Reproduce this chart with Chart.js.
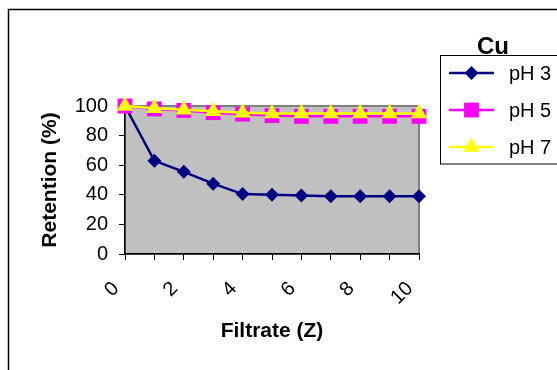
<!DOCTYPE html>
<html>
<head>
<meta charset="utf-8">
<title>Cu retention</title>
<script src="https://cdn.jsdelivr.net/npm/chart.js@4/dist/chart.umd.min.js"></script>
<style>
  html, body { margin: 0; padding: 0; background: #fff; }
  #wrap { width: 557px; height: 370px; }
</style>
</head>
<body>
<div id="wrap"><canvas id="retentionChart" width="557" height="370"></canvas></div>
<script>
const filtrate = [0, 1, 2, 3, 4, 5, 6, 7, 8, 9, 10];
const ph3 = [100, 63, 55.5, 47.5, 40.5, 40, 39.5, 39, 39, 39, 39];
const ph5 = [100, 98, 97, 95.5, 94.5, 93.5, 93, 93, 93, 93, 93];
const ph7 = [100, 98.5, 97.5, 96.5, 95.5, 95, 95, 95, 95, 95, 95];
const seriesNames = ['pH 3', 'pH 5', 'pH 7'];
const xTickLabels = ['0', '2', '4', '6', '8', '10'];
const yTicks = [0, 20, 40, 60, 80, 100];
const legendTitle = 'Cu';

const FONT = '"Liberation Sans", Arial, sans-serif';

function points(values) {
  return values.map((v, i) => ({ x: filtrate[i], y: v }));
}

function series(label, values, color, style, radius, order) {
  return {
    label: label,
    data: points(values),
    borderColor: color,
    backgroundColor: color,
    borderWidth: 2.5,
    pointStyle: style,
    pointRadius: radius,
    pointHoverRadius: radius,
    pointBackgroundColor: color,
    pointBorderColor: color,
    pointBorderWidth: 0,
    tension: 0,
    clip: false,
    order: order
  };
}

// grey plot area and the outer frame, drawn under the axes
const backdrop = {
  id: 'backdrop',
  beforeDraw(chart) {
    const ctx = chart.ctx;
    const a = chart.chartArea;
    ctx.save();
    ctx.fillStyle = '#fff';
    ctx.fillRect(0, 0, chart.width, chart.height);
    ctx.strokeStyle = '#000';
    ctx.lineWidth = 1.5;
    ctx.strokeRect(8.5, 9.5, chart.width + 20, chart.height + 20);
    ctx.fillStyle = '#c0c0c0';
    ctx.fillRect(a.left, a.top, a.right - a.left, a.bottom - a.top);
    ctx.strokeStyle = '#808080';
    ctx.lineWidth = 2;
    ctx.strokeRect(a.left, a.top, a.right - a.left, a.bottom - a.top);
    ctx.restore();
  }
};

// boxed legend with a line sample and marker per series
const boxLegend = {
  id: 'boxLegend',
  afterDraw(chart) {
    const ctx = chart.ctx;
    const box = { x: 440.5, y: 55.5, w: 130, h: 108.5 };
    ctx.save();
    ctx.fillStyle = '#fff';
    ctx.fillRect(box.x, box.y, box.w, box.h);
    ctx.strokeStyle = '#000';
    ctx.lineWidth = 1;
    ctx.strokeRect(box.x, box.y, box.w, box.h);

    ctx.fillStyle = '#000';
    ctx.font = 'bold 24px ' + FONT;
    ctx.textAlign = 'center';
    ctx.textBaseline = 'alphabetic';
    ctx.fillText(legendTitle, 493, 54);

    chart.data.datasets.forEach((ds, i) => {
      const y = 73 + i * 37;
      ctx.strokeStyle = ds.borderColor;
      ctx.lineWidth = ds.borderWidth;
      ctx.beginPath();
      ctx.moveTo(449, y);
      ctx.lineTo(494, y);
      ctx.stroke();
      ctx.fillStyle = ds.pointBackgroundColor;
      ctx.strokeStyle = ds.pointBorderColor;
      ctx.lineWidth = 0;
      Chart.helpers.drawPoint(ctx, { pointStyle: ds.pointStyle, radius: ds.pointRadius, borderWidth: 0, rotation: 0 }, 471.5, y);
      ctx.fillStyle = '#000';
      ctx.font = '20px ' + FONT;
      ctx.textAlign = 'left';
      ctx.textBaseline = 'middle';
      ctx.fillText(ds.label, 509, y + 1);
    });
    ctx.restore();
  }
};

new Chart(document.getElementById('retentionChart'), {
  type: 'line',
  data: {
    datasets: [
      series(seriesNames[0], ph3, '#000080', 'rectRot', 7, 3),
      series(seriesNames[1], ph5, '#ff00ff', 'rect', 10.5, 2),
      series(seriesNames[2], ph7, '#ffff00', 'triangle', 9.5, 1)
    ]
  },
  options: {
    responsive: false,
    animation: false,
    events: [],
    layout: { padding: { left: 0, top: 106, right: 138, bottom: 0 } },
    plugins: {
      legend: { display: false },
      tooltip: { enabled: false }
    },
    scales: {
      x: {
        type: 'linear',
        min: 0,
        max: 10,
        afterFit(scale) { scale.height = 116; },
        afterBuildTicks(scale) {
          scale.ticks = filtrate.map(v => ({ value: v }));
        },
        ticks: {
          autoSkip: false,
          minRotation: 45,
          maxRotation: 45,
          padding: 17,
          labelOffset: -9,
          color: '#000',
          font: { family: FONT, size: 20 },
          callback: v => xTickLabels.includes(String(v)) ? String(v) : ''
        },
        grid: {
          drawOnChartArea: false,
          drawTicks: true,
          tickLength: 6,
          color: '#000',
          lineWidth: 1
        },
        border: { display: true, color: '#000', width: 1.5 },
        title: {
          display: true,
          text: 'Filtrate (Z)',
          color: '#000',
          font: { family: FONT, size: 21, weight: 'bold' },
          padding: { top: 0, bottom: 26 }
        }
      },
      y: {
        min: 0,
        max: 100,
        afterFit(scale) { scale.width = 125; },
        afterBuildTicks(scale) {
          scale.ticks = yTicks.map(v => ({ value: v }));
        },
        ticks: {
          padding: 11,
          color: '#000',
          font: { family: FONT, size: 20 }
        },
        grid: {
          drawOnChartArea: false,
          drawTicks: true,
          tickLength: 6,
          color: '#000',
          lineWidth: 1
        },
        border: { display: true, color: '#000', width: 1.5 },
        title: {
          display: true,
          text: 'Retention (%)',
          color: '#000',
          font: { family: FONT, size: 21, weight: 'bold' },
          padding: { top: 38, bottom: 0 }
        }
      }
    }
  },
  plugins: [backdrop, boxLegend]
});
</script>
</body>
</html>
